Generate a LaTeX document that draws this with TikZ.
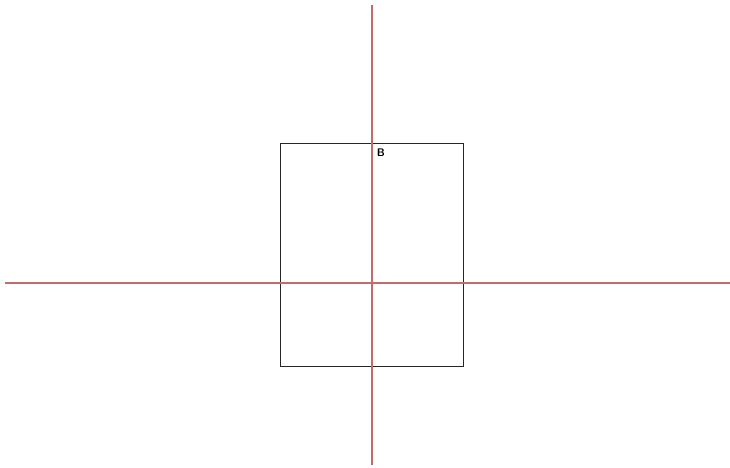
\documentclass[tikz,border=0pt]{standalone}
\usepackage{tikz}
\definecolor{axisred}{RGB}{192,108,108}
\begin{document}
\begin{tikzpicture}[x=1pt,y=-1pt]
        \useasboundingbox (0,0) rectangle (730,467);
        \draw[black!85, line width=0.9pt] (280,143) rectangle (463,366);
        \draw[axisred, line width=1.2pt] (372,5) -- (372,465);
        \draw[axisred, line width=1.2pt] (5,283) -- (730,283);
        \node[font=\sffamily\bfseries\fontsize{11}{13}\selectfont, inner sep=0pt] (b) at (381,153) {B};
    \end{tikzpicture}
\end{document}
